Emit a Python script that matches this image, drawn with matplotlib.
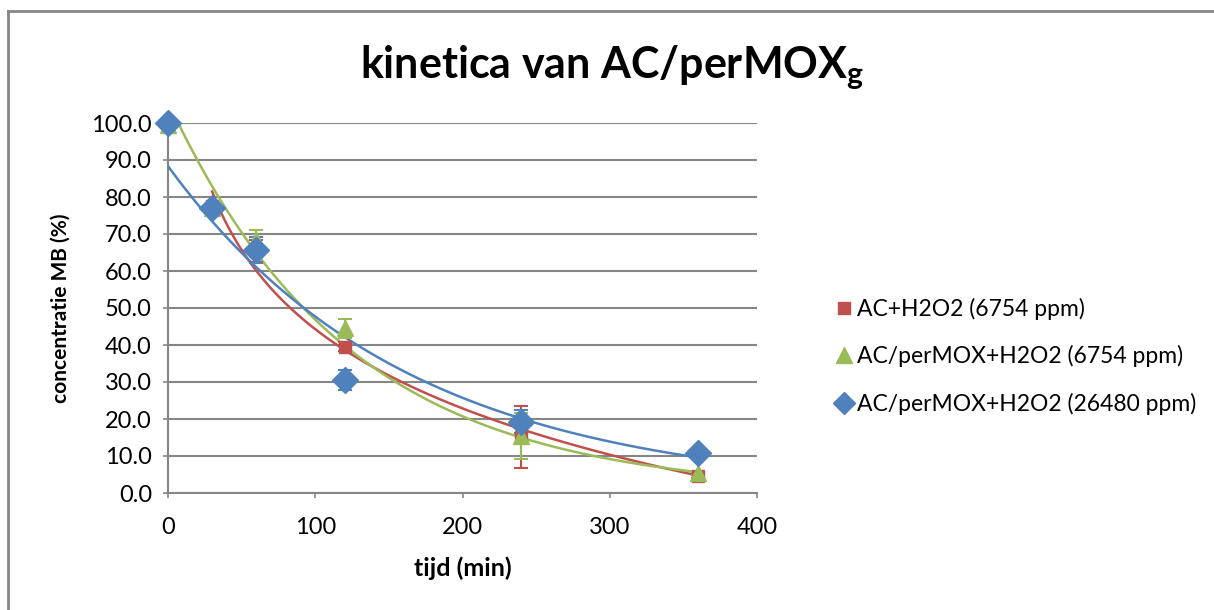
import numpy as np
import matplotlib
matplotlib.use("Agg")
import matplotlib.pyplot as plt
from matplotlib.lines import Line2D

plt.rcParams['font.family'] = ['Lato', 'DejaVu Sans']
plt.rcParams['mathtext.fontset'] = 'custom'
plt.rcParams['mathtext.rm'] = 'Lato'
plt.rcParams['mathtext.bf'] = 'Lato:bold'

# ---- data ----
time = [0, 30, 60, 120, 240, 360]

labels = ["AC+H2O2 (6754 ppm)",
          "AC/perMOX+H2O2 (6754 ppm)",
          "AC/perMOX+H2O2 (26480 ppm)"]

red_y = [100.0, 77.5, 65.5, 39.5, 15.1, 4.5]
red_err = [0.0, 0.0, 3.0, 1.2, 8.3, 0.5]

green_y = [99.5, 77.0, 68.5, 44.5, 15.4, 5.3]
green_err = [0.0, 0.0, 2.5, 2.5, 6.2, 0.5]

blue_y = [100.0, 77.0, 65.7, 30.5, 19.3, 10.8]
blue_err = [0.0, 0.0, 3.5, 2.7, 3.0, 0.5]

x_ticks = [0, 100, 200, 300, 400]
y_ticks = [0, 10, 20, 30, 40, 50, 60, 70, 80, 90, 100]

RED = "#C0504D"
GREEN = "#9BBB59"
BLUE = "#4F81BD"
GRID = "#868686"

fig = plt.figure(figsize=(12.14, 6.10), dpi=100)
ax = fig.add_axes([168/1214, 1-493/610, (757-168)/1214, (493-123)/610])

x = np.array(time, dtype=float)

# trendlines (fitted from data)
# red: logarithmic fit (x>0)
mask = x > 0
b, a = np.polyfit(np.log(x[mask]), np.array(red_y)[mask], 1)
xr = np.linspace(30, 360, 300)
ax.plot(xr, a + b*np.log(xr), color=RED, lw=1.8, zorder=3)

# green and blue: exponential fits
xe = np.linspace(0, 360, 300)
for ys, col in [(green_y, GREEN), (blue_y, BLUE)]:
    k, lna = np.polyfit(x, np.log(ys), 1)
    ax.plot(xe, np.exp(lna + k*xe), color=col, lw=1.8, zorder=3)

# points with error bars
specs = [(red_y, red_err, RED, 's', 9),
         (green_y, green_err, GREEN, '^', 11),
         (blue_y, blue_err, BLUE, 'D', 13)]
for ys, es, col, m, ms in specs:
    ax.errorbar(x, ys, yerr=es, fmt='none', ecolor=col, elinewidth=1.5,
                capsize=5, capthick=1.5, zorder=4)
    ax.plot(x, ys, linestyle='none', marker=m, markersize=ms, color=col,
            markeredgecolor=col, zorder=5, clip_on=False)

ax.set_xlim(0, 400)
ax.set_ylim(0, 100)
ax.set_xticks(x_ticks)
ax.set_yticks(y_ticks)
ax.set_yticklabels([f"{v:.1f}" for v in y_ticks])
ax.tick_params(axis='both', labelsize=17, colors=GRID, labelcolor='black',
               length=3.6, width=1.2, direction='out')
ax.tick_params(axis='x', pad=14)
ax.tick_params(axis='y', pad=8)

ax.grid(axis='y', color=GRID, lw=1.5)
ax.set_axisbelow(True)
for s in ['top', 'right']:
    ax.spines[s].set_visible(False)
for s in ['left', 'bottom']:
    ax.spines[s].set_color(GRID)
    ax.spines[s].set_linewidth(1.5)

ax.set_xlabel("tijd (min)", fontsize=18, fontweight='bold', labelpad=13)
ax.set_ylabel("concentratie MB (%)", fontsize=15, fontweight='bold', labelpad=15)

fig.text(0.504, 0.888, r"kinetica van AC/perMOX$_{\mathbf{g}}$", fontsize=31,
         fontweight='bold', ha='center', va='center')

handles = [Line2D([], [], linestyle='none', marker='s', markersize=9, color=RED),
           Line2D([], [], linestyle='none', marker='^', markersize=11, color=GREEN),
           Line2D([], [], linestyle='none', marker='D', markersize=11, color=BLUE)]
fig.legend(handles, labels, loc='center left', bbox_to_anchor=(0.676, 0.416),
           frameon=False, fontsize=16.5, handletextpad=0.1, handlelength=1.0,
           labelspacing=1.1, borderpad=0)

# outer frame (top and left edges visible)
fig.add_artist(Line2D([8/1214, 1], [1-11/610, 1-11/610], color=GRID, lw=2,
                      transform=fig.transFigure))
fig.add_artist(Line2D([8/1214, 8/1214], [0, 1-11/610], color=GRID, lw=2,
                      transform=fig.transFigure))

fig.savefig("out.png", dpi=100)
